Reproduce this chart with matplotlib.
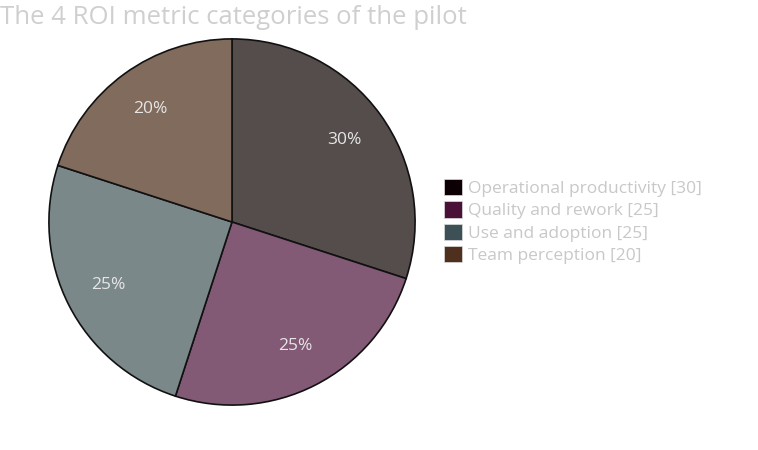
import matplotlib
matplotlib.use("Agg")
import matplotlib.pyplot as plt
from matplotlib.patches import Patch

# chart data
categories = ["Operational productivity", "Quality and rework", "Use and adoption", "Team perception"]
weights = [30, 25, 25, 20]
slice_colors = ["#554c4c", "#835a75", "#7b888a", "#816b5c"]
legend_colors = ["#0d0004", "#4a1138", "#3d5056", "#4f2f1e"]
title = "The 4 ROI metric categories of the pilot"

plt.rcParams["font.family"] = ["Open Sans", "DejaVu Sans"]

W, H = 758, 450
fig = plt.figure(figsize=(W / 100, H / 100), dpi=100)

# pie centre at about (232, 222) px, radius about 184 px
cx, cy, r = 232, 222, 184
ax = fig.add_axes([(cx - r) / W, (H - cy - r) / H, 2 * r / W, 2 * r / H])
wedges, texts, autotexts = ax.pie(
    weights,
    colors=slice_colors,
    startangle=90,
    counterclock=False,
    autopct="%d%%",
    pctdistance=0.76,
    wedgeprops={"edgecolor": "#111111", "linewidth": 1.2},
    textprops={"color": "#e6e6e6", "fontsize": 12.5},
)
ax.set_xlim(-1.005, 1.005)
ax.set_ylim(-1.005, 1.005)
ax.axis("off")

fig.text(0.0, 1 - 17 / H, title, fontsize=18.5, color="#cfcfcf", ha="left", va="center")

handles = [Patch(facecolor=c, edgecolor="#dddddd", linewidth=0.5) for c in legend_colors]
labels = [f"{c} [{w}]" for c, w in zip(categories, weights)]
fig.legend(
    handles, labels,
    loc="upper left",
    bbox_to_anchor=(432 / W, 1 - 167 / H),
    frameon=False,
    fontsize=12.5,
    labelcolor="#c8c8c8",
    handlelength=1.05,
    handleheight=1.05,
    handletextpad=0.3,
    labelspacing=0.25,
    borderpad=0.2,
)

fig.savefig("out.png", dpi=100)
